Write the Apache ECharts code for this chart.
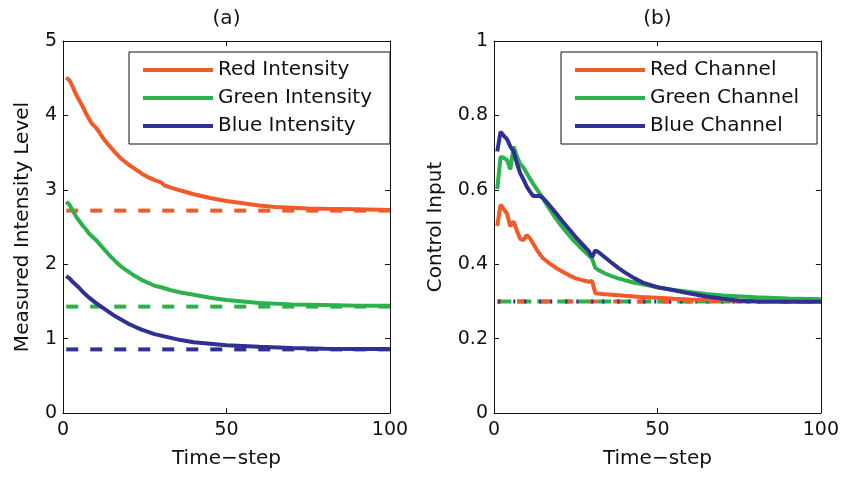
<!DOCTYPE html>
<html>
<head>
<meta charset="utf-8">
<script src="https://cdn.jsdelivr.net/npm/echarts@6/dist/echarts.min.js"></script>
<style>html,body{margin:0;padding:0;background:#fff}#c{width:842px;height:477px}</style>
</head>
<body>
<div id="c"></div>
<script>
// ---------- Data ----------
const xTicksLabels = [0, 50, 100];
// Panel (a): measured intensity
const redIntT  = [1,2,3,4,5,6,7,8,9,10,11,12,14,16,18,20,22,24,26,28,30,31,33,36,40,45,50,55,60,65,70,75,80,90,100];
const redIntV  = [4.51,4.47,4.38,4.28,4.20,4.12,4.03,3.95,3.88,3.84,3.78,3.71,3.60,3.50,3.41,3.34,3.28,3.22,3.17,3.13,3.10,3.06,3.03,2.99,2.94,2.89,2.85,2.82,2.79,2.77,2.76,2.75,2.745,2.74,2.73];
const greenIntT = [1,2,3,4,5,6,7,8,9,10,12,14,16,18,20,22,24,26,28,30,33,36,40,45,50,55,60,70,80,90,100];
const greenIntV = [2.84,2.80,2.72,2.64,2.58,2.52,2.47,2.41,2.37,2.33,2.23,2.13,2.04,1.96,1.90,1.84,1.79,1.75,1.71,1.69,1.65,1.62,1.59,1.55,1.52,1.50,1.48,1.46,1.45,1.44,1.44];
const blueIntT = [1,2,3,4,5,6,7,8,10,12,14,16,18,20,22,24,26,28,30,33,36,40,45,50,55,60,70,80,90,100];
const blueIntV = [1.84,1.81,1.76,1.72,1.68,1.63,1.59,1.55,1.48,1.42,1.36,1.30,1.25,1.20,1.16,1.12,1.09,1.06,1.04,1.01,0.98,0.95,0.93,0.91,0.90,0.89,0.875,0.865,0.86,0.86];
const targetT = [1, 100];
const redTarget = 2.72, greenTarget = 1.43, blueTarget = 0.855;

// Panel (b): control input
const redChT = [1,2,3,4,5,6,7,8,9,10,11,12,13,14,15,17,19,21,23,25,27,29,30,31,33,36,40,45,50,55,60,70,80,100];
const redChV = [0.503,0.560,0.548,0.535,0.502,0.515,0.490,0.468,0.465,0.478,0.470,0.455,0.440,0.427,0.416,0.402,0.390,0.380,0.370,0.362,0.357,0.353,0.355,0.322,0.320,0.318,0.315,0.312,0.310,0.307,0.305,0.303,0.302,0.301];
const greenChT = [1,2,3,4,5,6,7,8,9,10,11,12,14,16,18,20,22,24,26,28,30,31,32,34,36,38,40,43,46,50,55,60,65,70,80,90,100];
const greenChV = [0.602,0.688,0.686,0.680,0.655,0.716,0.690,0.670,0.660,0.645,0.630,0.616,0.590,0.562,0.535,0.510,0.488,0.467,0.449,0.432,0.415,0.390,0.384,0.375,0.368,0.362,0.357,0.350,0.345,0.338,0.331,0.325,0.320,0.316,0.311,0.308,0.306];
const blueChT = [1,2,3,4,5,6,7,8,9,10,11,12,13,14,15,17,19,21,23,25,27,29,30,31,32,34,36,38,40,43,46,50,55,60,65,70,75,80,90,100];
const blueChV = [0.703,0.756,0.745,0.736,0.716,0.703,0.672,0.645,0.628,0.609,0.595,0.583,0.583,0.584,0.578,0.558,0.537,0.515,0.494,0.473,0.454,0.435,0.419,0.437,0.432,0.418,0.404,0.390,0.378,0.362,0.349,0.338,0.330,0.321,0.313,0.307,0.302,0.300,0.299,0.299];
const chTarget = 0.30;

const names = {
  a: ['Red Intensity', 'Green Intensity', 'Blue Intensity'],
  b: ['Red Channel', 'Green Channel', 'Blue Channel']
};

// ---------- Styling ----------
const RED = '#F15A29', GREEN = '#2BB24C', BLUE = '#2E3192';
const FONT = 'DejaVu Sans';
const pair = (t, v) => t.map((x, i) => [x, v[i]]);
const flat = (t, v) => t.map(x => [x, v]);

function xAx(grid, pos, name, gap, labels) {
  return {
    type: 'value', gridIndex: grid, position: pos, min: 0, max: 100, interval: 50,
    name: name, nameLocation: 'middle', nameGap: gap,
    nameTextStyle: { fontFamily: FONT, fontSize: 20, color: '#111' },
    axisLine: { show: true, onZero: false, lineStyle: { color: '#111', width: 1 } },
    axisTick: { show: true, inside: true, length: 5, lineStyle: { color: '#111' } },
    axisLabel: { show: labels, margin: 8, fontFamily: FONT, fontSize: 19, color: '#111' },
    splitLine: { show: false }
  };
}
function yAx(grid, pos, max, interval, name, gap, labels) {
  return {
    type: 'value', gridIndex: grid, position: pos, min: 0, max: max, interval: interval,
    name: name, nameLocation: 'middle', nameGap: gap,
    nameTextStyle: { fontFamily: FONT, fontSize: 20, color: '#111' },
    axisLine: { show: true, onZero: false, lineStyle: { color: '#111', width: 1 } },
    axisTick: { show: true, inside: true, length: 5, lineStyle: { color: '#111' } },
    axisLabel: { show: labels, margin: 6, fontFamily: FONT, fontSize: 19, color: '#111' },
    splitLine: { show: false }
  };
}
function solid(name, xi, yi, data, color) {
  return { name: name, type: 'line', xAxisIndex: xi, yAxisIndex: yi, data: data,
    showSymbol: false, symbol: 'none', lineStyle: { color: color, width: 4 }, itemStyle: { color: color },
    z: 3, animation: false };
}
function dashed(xi, yi, data, color, type, offset, width) {
  return { type: 'line', xAxisIndex: xi, yAxisIndex: yi, data: data, showSymbol: false, symbol: 'none',
    lineStyle: { color: color, width: width || 4, type: type, dashOffset: offset || 0 }, z: 2, animation: false,
    silent: true };
}
function legend(left, data) {
  return {
    left: left, top: 52, orient: 'vertical', data: data, icon: 'rect',
    itemWidth: 70, itemHeight: 4, itemGap: 6,
    padding: [7, 18, 7, 14], borderColor: '#111', borderWidth: 1, backgroundColor: '#fff',
    textStyle: { fontFamily: FONT, fontSize: 20, color: '#111', lineHeight: 22 },
    selectedMode: false
  };
}

const option = {
  backgroundColor: '#fff',
  animation: false,
  grid: [
    { left: 63, top: 41, width: 327, height: 372, show: false },
    { left: 494, top: 41, width: 328, height: 372, show: false }
  ],
  xAxis: [
    xAx(0, 'bottom', 'Time\u2212step', 36, true),
    xAx(0, 'top', '(a)', 12, false),
    xAx(1, 'bottom', 'Time\u2212step', 36, true),
    xAx(1, 'top', '(b)', 12, false)
  ],
  yAxis: [
    yAx(0, 'left', 5, 1, 'Measured Intensity Level', 30, true),
    yAx(0, 'right', 5, 1, '', 0, false),
    yAx(1, 'left', 1, 0.2, 'Control Input', 48, true),
    yAx(1, 'right', 1, 0.2, '', 0, false)
  ],
  legend: [legend(129, names.a), legend(561, names.b)],
  series: [
    dashed(0, 0, flat(targetT, redTarget), RED, [12, 12]),
    dashed(0, 0, flat(targetT, greenTarget), GREEN, [12, 12]),
    dashed(0, 0, flat(targetT, blueTarget), BLUE, [12, 12]),
    solid(names.a[0], 0, 0, pair(redIntT, redIntV), RED),
    solid(names.a[1], 0, 0, pair(greenIntT, greenIntV), GREEN),
    solid(names.a[2], 0, 0, pair(blueIntT, blueIntV), BLUE),

    dashed(2, 2, flat(targetT, chTarget), GREEN, [14, 6], 0),
    dashed(2, 2, flat(targetT, chTarget), RED, [8, 16], 4),
    dashed(2, 2, flat(targetT, chTarget), BLUE, [2, 9, 2, 13], 10),
    solid(names.b[0], 2, 2, pair(redChT, redChV), RED),
    solid(names.b[1], 2, 2, pair(greenChT, greenChV), GREEN),
    solid(names.b[2], 2, 2, pair(blueChT, blueChV), BLUE)
  ]
};

const chart = echarts.init(document.getElementById('c'), null, { renderer: 'canvas' });
chart.setOption(option);
</script>
</body>
</html>
